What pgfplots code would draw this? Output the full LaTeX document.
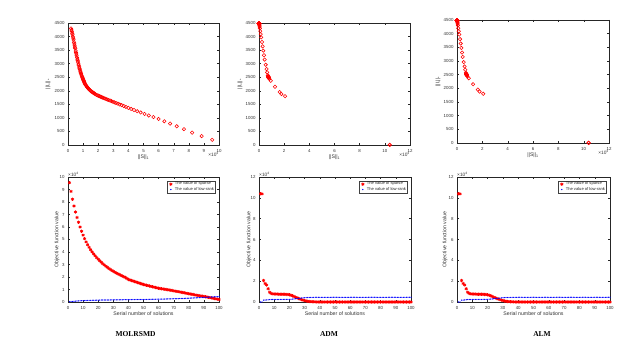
\documentclass[border=0pt]{standalone}
\usepackage{fontspec}
\setmainfont{Liberation Sans}
\newfontfamily\capfont{Liberation Serif}
\usepackage{pgfplots}
\usepackage{pgfplotstable}
\pgfplotsset{compat=1.18}

% n = serial number of solution, s = ||S||_1 (x 10^4), L = ||L||_*
\pgfplotstableread{
n s L
1 9.55 190
2 8.85 330
3 8.22 455
4 7.68 585
5 7.20 690
6 6.76 790
7 6.38 875
8 6.00 960
9 5.66 1030
10 5.35 1090
11 5.07 1145
12 4.81 1200
13 4.58 1245
14 4.37 1290
15 4.18 1330
16 4.00 1370
17 3.84 1405
18 3.69 1440
19 3.55 1470
20 3.42 1495
21 3.30 1525
22 3.18 1550
23 3.07 1575
24 2.97 1595
25 2.87 1620
26 2.78 1640
27 2.69 1660
28 2.61 1675
29 2.53 1693
30 2.46 1710
31 2.39 1725
32 2.32 1740
33 2.26 1755
34 2.20 1770
35 2.14 1785
36 2.08 1800
37 2.02 1815
38 1.96 1830
39 1.88 1850
40 1.80 1880
41 1.76 1895
42 1.72 1910
43 1.68 1925
44 1.64 1940
45 1.60 1955
46 1.56 1970
47 1.52 1985
48 1.48 2010
49 1.44 2030
50 1.40 2050
51 1.37 2070
52 1.34 2090
53 1.31 2110
54 1.28 2130
55 1.25 2150
56 1.22 2175
57 1.19 2200
58 1.16 2225
59 1.13 2250
60 1.10 2280
61 1.08 2310
62 1.06 2340
63 1.04 2370
64 1.02 2395
65 1.00 2420
66 0.98 2450
67 0.96 2480
68 0.94 2510
69 0.92 2540
70 0.89 2580
71 0.87 2620
72 0.85 2650
73 0.83 2690
74 0.81 2730
75 0.78 2790
76 0.76 2830
77 0.74 2880
78 0.71 2940
79 0.69 2990
80 0.66 3060
81 0.64 3120
82 0.62 3170
83 0.60 3230
84 0.57 3300
85 0.55 3360
86 0.53 3410
87 0.51 3470
88 0.48 3560
89 0.46 3610
90 0.44 3670
91 0.42 3730
92 0.40 3790
93 0.37 3880
94 0.35 3940
95 0.33 3990
96 0.30 4070
97 0.28 4120
98 0.25 4190
99 0.23 4240
100 0.20 4300
}\molrsmd

\pgfplotstableread{
n s L
1 10.40 0
2 10.38 10
3 2.07 1800
4 1.78 1880
5 1.64 1955
6 1.27 2150
7 0.93 2370
8 0.82 2440
9 0.78 2470
10 0.77 2480
11 0.76 2488
12 0.76 2495
13 0.75 2500
14 0.75 2505
15 0.75 2510
16 0.74 2515
17 0.74 2520
18 0.73 2528
19 0.72 2540
20 0.70 2570
21 0.65 2680
22 0.60 2800
23 0.53 2960
24 0.45 3150
25 0.40 3310
26 0.34 3480
27 0.29 3640
28 0.24 3800
29 0.18 3970
30 0.14 4090
31 0.10 4200
32 0.07 4300
33 0.05 4360
34 0.035 4400
35 0.025 4430
36 0.018 4450
37 0.012 4462
38 0.008 4470
39 0.006 4475
40 0.005 4478
41 0.004 4480
42 0.004 4481
43 0.004 4481
44 0.003 4482
45 0.003 4482
46 0.003 4483
47 0.003 4483
48 0.003 4484
49 0.003 4484
50 0.002 4485
51 0.002 4485
52 0.002 4486
53 0.002 4486
54 0.002 4487
55 0.002 4487
56 0.002 4488
57 0.002 4488
58 0.002 4488
59 0.002 4489
60 0.002 4489
61 0.001 4490
62 0.001 4490
63 0.001 4490
64 0.001 4491
65 0.001 4491
66 0.001 4491
67 0.001 4492
68 0.001 4492
69 0.001 4492
70 0.001 4492
71 0.001 4493
72 0.001 4493
73 0.001 4493
74 0.001 4493
75 0.001 4493
76 0.001 4494
77 0.001 4494
78 0.001 4494
79 0.001 4494
80 0.001 4494
81 0.001 4494
82 0.000 4495
83 0.000 4495
84 0.000 4495
85 0.000 4495
86 0.000 4495
87 0.000 4495
88 0.000 4495
89 0.000 4495
90 0.000 4496
91 0.000 4496
92 0.000 4496
93 0.000 4496
94 0.000 4496
95 0.000 4496
96 0.000 4496
97 0.000 4496
98 0.000 4496
99 0.000 4496
100 0.000 4496
}\admdata

\tikzset{
  expo/.style={inner sep=0pt, font=\fontsize{4.8}{5}\selectfont, text=black!80},
  panelname/.style={font=\capfont\bfseries\fontsize{7.5}{9}\selectfont},
}

\pgfplotsset{
  mlab/.style={
    scale only axis, clip=false,
    axis line style={black!85, line width=0.35pt},
    major tick style={black!85, line width=0.35pt},
    major tick length=1.6pt,
    tick align=inside,
    scaled ticks=false,
    /pgf/number format/assume math mode=true,
    /pgf/number format/1000 sep={},
    tick label style={font=\fontsize{4.4}{5}\selectfont, text=black!80},
    xticklabel shift=0.8pt,
    every axis x label/.style={at={(axis description cs:0.5,0)}, anchor=center,
      yshift=-12pt, font=\fontsize{5.2}{6}\selectfont, text=black!80},
  },
  ylab/.style={every axis y label/.style={at={(axis description cs:0,0.5)},
      xshift=-#1, rotate=90, anchor=center, font=\fontsize{5.2}{6}\selectfont, text=black!80}},
  front/.style={mlab, width=151pt, height=122pt,
    xlabel={||S||\textsubscript{1}}, ylabel={||L||\textsubscript{*}},
    ymin=0, ymax=4500, ytick={0,500,...,4500}},
  sol/.style={mlab, height=125pt, xmin=0, xmax=100, xtick={0,10,...,100}, ymin=0,
    xlabel={Serial number of solutions}, ylabel={Objective function value},
    legend style={at={(rel axis cs:0.978,0.972)}, anchor=north east,
      font=\fontsize{4.1}{4.6}\selectfont, text=black!85, draw=black!75, line width=0.5pt,
      inner xsep=0.8pt, inner ysep=0.6pt, nodes={inner sep=0.6pt}, row sep=-0.3pt},
    legend cell align=left,
    legend image code/.code={\path (0pt,0pt) (5pt,0pt); \draw[##1] plot coordinates {(2pt,0pt)};}},
  circ/.style={only marks, mark=o, mark size=1.7pt, red, line width=0.55pt},
  spr/.style={only marks, mark=asterisk, mark size=1.6pt, red, line width=0.75pt},
  lowr/.style={only marks, mark=*, mark size=0.35pt, blue},
}

\begin{document}
\begin{tikzpicture}
\path[use as bounding box] (0,0) rectangle (644pt,-353pt);

% top row: ||L||_* against ||S||_1
\begin{axis}[front, at={(68pt,-145pt)}, anchor=south west,
  xmin=0, xmax=10, xtick={0,1,...,10}, ylab=20pt]
\addplot[circ] table[x=s, y=L] {\molrsmd};
\node[expo, anchor=north east, yshift=-7pt] at (rel axis cs:1,0) {×10\textsuperscript{4}};
\end{axis}

\begin{axis}[front, at={(259pt,-145pt)}, anchor=south west,
  xmin=0, xmax=12, xtick={0,2,...,12}, ylab=19pt]
\addplot[circ] table[x=s, y=L] {\admdata};
\node[expo, anchor=north east, yshift=-7pt] at (rel axis cs:1,0) {×10\textsuperscript{4}};
\end{axis}

\begin{axis}[front, at={(457pt,-143pt)}, anchor=south west, width=152pt, height=123pt,
  xmin=0, xmax=12, xtick={0,2,...,12}, ylab=19pt]
\addplot[circ] table[x=s, y=L] {\admdata};
\node[expo, anchor=north east, yshift=-7pt] at (rel axis cs:1,0) {×10\textsuperscript{4}};
\end{axis}

% bottom row: objective values against serial number
\begin{axis}[sol, at={(68pt,-302pt)}, anchor=south west, width=151pt,
  ymax=10, ytick={0,1,...,10}, ylab=11pt]
\addplot[spr] table[x=n, y=s] {\molrsmd};
\addlegendentry{The value of sparse}
\addplot[lowr] table[x=n, y expr=\thisrow{L}/10000] {\molrsmd};
\addlegendentry{The value of low-rank}
\node[expo, anchor=south west, yshift=0.6pt] at (rel axis cs:0,1) {×10\textsuperscript{4}};
\end{axis}

\begin{axis}[sol, at={(259pt,-302pt)}, anchor=south west, width=152pt,
  ymax=12, ytick={0,2,...,12}, ylab=10pt]
\addplot[spr] table[x=n, y=s] {\admdata};
\addlegendentry{The value of sparse}
\addplot[lowr] table[x=n, y expr=\thisrow{L}/10000] {\admdata};
\addlegendentry{The value of low-rank}
\node[expo, anchor=south west, yshift=0.6pt] at (rel axis cs:0,1) {×10\textsuperscript{4}};
\end{axis}

\begin{axis}[sol, at={(457pt,-302pt)}, anchor=south west, width=153pt,
  ymax=12, ytick={0,2,...,12}, ylab=12pt]
\addplot[spr] table[x=n, y=s] {\admdata};
\addlegendentry{The value of sparse}
\addplot[lowr] table[x=n, y expr=\thisrow{L}/10000] {\admdata};
\addlegendentry{The value of low-rank}
\node[expo, anchor=south west, yshift=0.6pt] at (rel axis cs:0,1) {×10\textsuperscript{4}};
\end{axis}

\node[panelname] at (135.5pt,-334pt) {MOLRSMD};
\node[panelname] at (329pt,-334pt) {ADM};
\node[panelname] at (542pt,-334pt) {ALM};
\end{tikzpicture}
\end{document}
